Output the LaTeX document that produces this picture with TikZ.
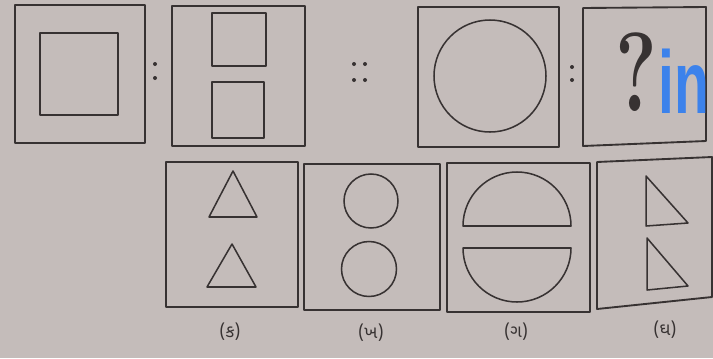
\documentclass[tikz,border=0pt]{standalone}
\usepackage{fontspec}
\usepackage{tikz}
\newfontfamily\gujfont[Script=Gujarati]{Noto Sans Gujarati UI}
\newfontfamily\markfont{Liberation Sans}
\definecolor{paper}{RGB}{196,188,186}
\definecolor{ink}{RGB}{55,50,50}
\definecolor{markblue}{RGB}{60,130,235}

\begin{document}
\begin{tikzpicture}[x=0.03cm, y=-0.03cm,
    frame/.style={draw=ink, line width=1.6pt, line join=round},
    figline/.style={draw=ink, line width=1.3pt, line join=round},
    ratiodot/.style={fill=ink},
    optlabel/.style={font=\gujfont\fontsize{15}{15}\selectfont, text=ink}]
    % Paper
    \useasboundingbox (0,0) rectangle (713,358);
    \clip (0,0) rectangle (713,358);
    \path[fill=paper] (0,0) rectangle (713,358);

    % Question row
    \draw[frame] (15,5) rectangle (145,143);
    \draw[figline] (40,33) rectangle (118,115);
    \fill[ratiodot] (155,64) circle (2) (155,78) circle (2);

    \draw[frame] (172,6) rectangle (305,146);
    \draw[figline] (212,13) rectangle (266,66);
    \draw[figline] (212,82) rectangle (264,138);
    \foreach \dx in {354,365}
        \foreach \dy in {64,80}
            \fill[ratiodot] (\dx,\dy) circle (2);

    \draw[frame] (418,7) rectangle (559,147);
    \draw[figline] (490,76) circle (56);
    \fill[ratiodot] (572,67) circle (2) (572,80) circle (2);

    \draw[frame] (583,8) -- (706,7) -- (706,141) -- (583,146) -- cycle;
    \node[anchor=east, inner sep=0pt, xscale=0.7, text=ink, font=\bfseries\fontsize{96}{96}\selectfont] (qmark) at (657,72) {?};
    \node[anchor=base west, inner sep=0pt, xscale=0.64, text=markblue, font=\markfont\bfseries\fontsize{76}{76}\selectfont] (mark) at (658,113) {in};

    % Answer row
    \draw[frame] (166,162) rectangle (298,307);
    \draw[figline] (233,171) -- (257,217) -- (209,217) -- cycle;
    \draw[figline] (232,244) -- (256,287) -- (207,287) -- cycle;

    \draw[frame] (304,164) rectangle (440,310);
    \draw[figline] (371,201) circle (27);
    \draw[figline] (369,269) circle (27.5);

    \draw[frame] (447,163) rectangle (590,312);
    \draw[figline] (463,226) arc (180:360:54) -- cycle;
    \draw[figline] (463,248) arc (180:0:54) -- cycle;

    \draw[frame] (597,162) -- (712,157) -- (712,297) -- (597,309) -- cycle;
    \draw[figline] (646,176) -- (646,226) -- (688,223) -- cycle;
    \draw[figline] (647,238) -- (647,290) -- (688,286) -- cycle;

    % Option labels
    \node[optlabel] (optA) at (230,332) {(ક)};
    \node[optlabel] (optB) at (371,333) {(ખ)};
    \node[optlabel] (optC) at (516,332) {(ગ)};
    \node[optlabel] (optD) at (665,330) {(ઘ)};
\end{tikzpicture}
\end{document}
